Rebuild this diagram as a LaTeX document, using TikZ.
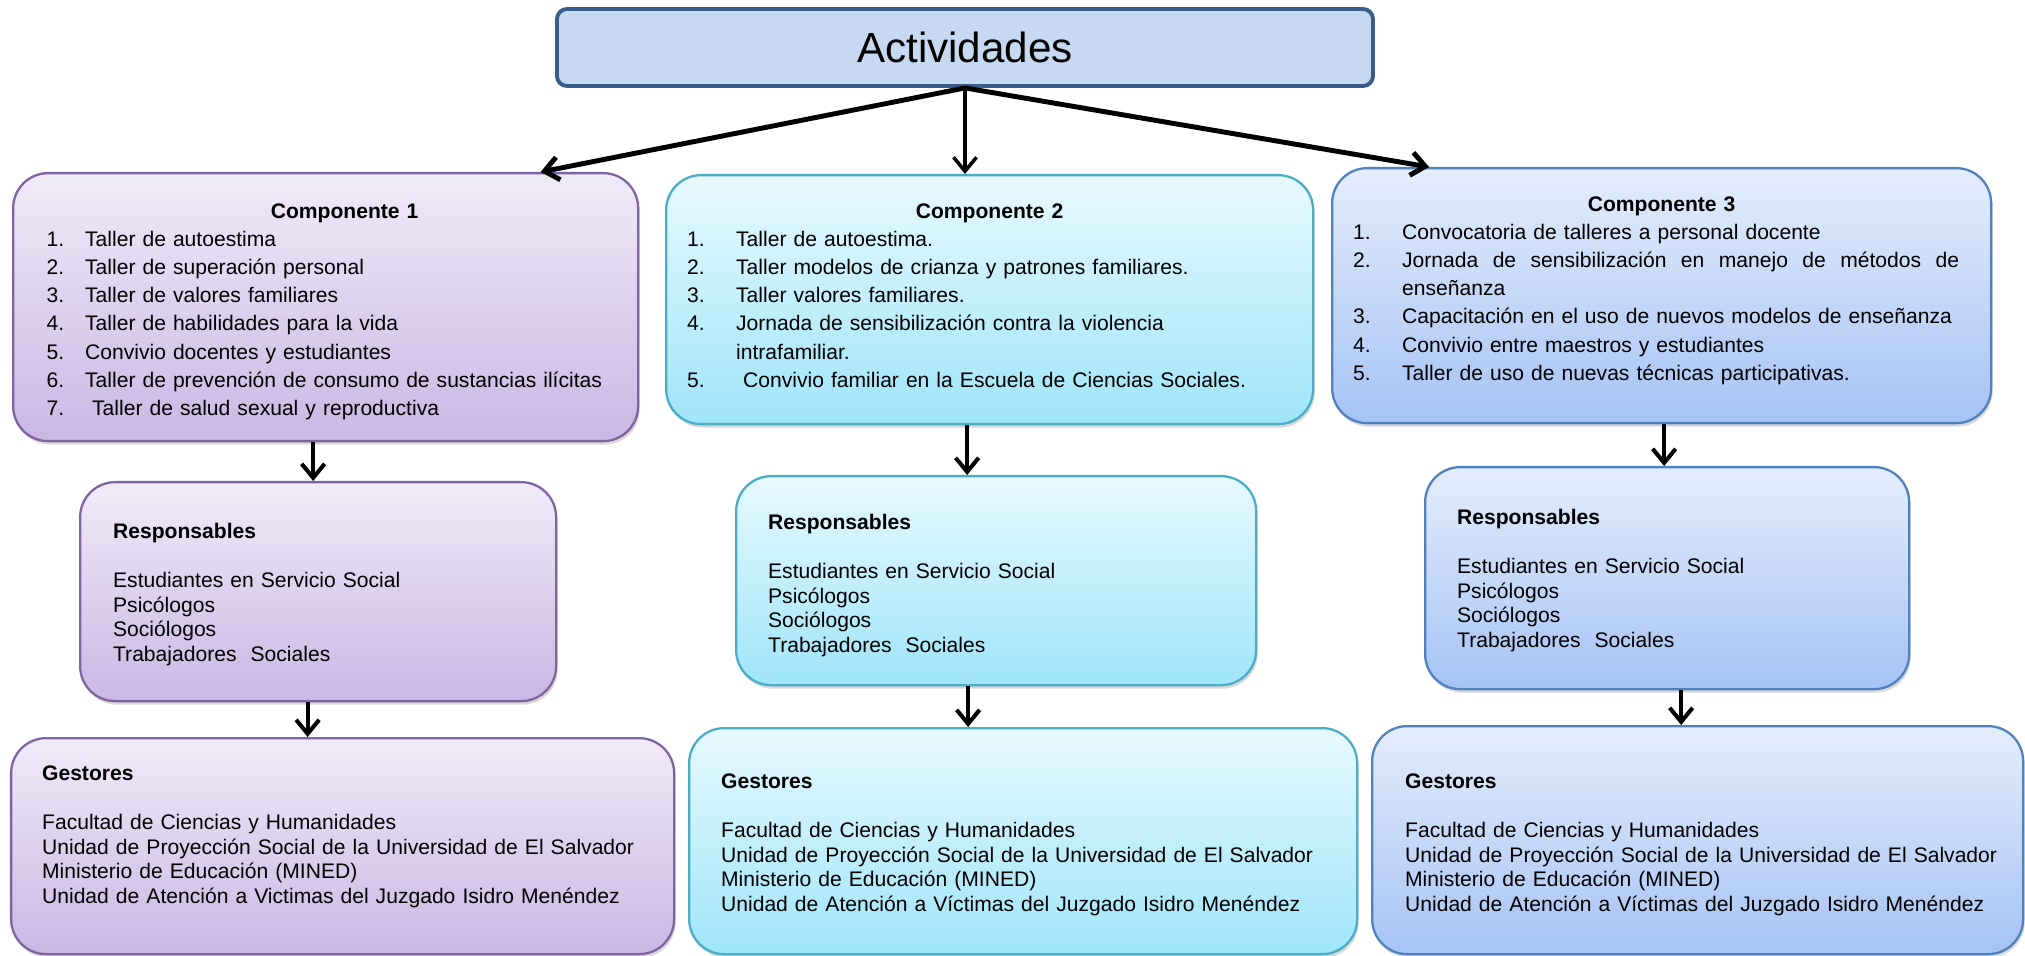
\documentclass[tikz,border=0pt]{standalone}
\usepackage{fontspec}
\setmainfont{Liberation Sans}
\usetikzlibrary{arrows.meta,shadows}
\definecolor{TitleBlue}{HTML}{C6D9F1}
\definecolor{TitleLine}{HTML}{3B5C8A}
\definecolor{LilacLine}{HTML}{8064A2}
\definecolor{LilacTop}{HTML}{F0EBF8}
\definecolor{LilacBot}{HTML}{CAB7E4}
\definecolor{AquaLine}{HTML}{4BACC6}
\definecolor{AquaTop}{HTML}{E7F9FE}
\definecolor{AquaBot}{HTML}{9FE5F9}
\definecolor{SkyLine}{HTML}{4F81BD}
\definecolor{SkyTop}{HTML}{E4EDFB}
\definecolor{SkyBot}{HTML}{A6C3F5}
\newlength{\numw}
\newcommand{\itm}[2]{\makebox[\numw][l]{#1}\mbox{#2}}
\newcommand{\topgap}[1]{\rule{0pt}{#1}}
\newcommand{\botgap}[1]{\rule[-#1]{0pt}{#1}}

\begin{document}
\begin{tikzpicture}[>={Straight Barb[length=0.28cm,width=0.46cm]}, font=\fontsize{12}{14}\selectfont]
\tikzset{box/.style={rounded corners=0.7cm, line width=1.3pt, anchor=north west, inner ysep=0pt, align=left, drop shadow={shadow xshift=0.03cm, shadow yshift=-0.07cm, opacity=0.3}}, lilac/.style={box, draw=LilacLine, top color=LilacTop, bottom color=LilacBot}, aqua/.style={box, draw=AquaLine, top color=AquaTop, bottom color=AquaBot}, sky/.style={box, draw=SkyLine, top color=SkyTop, bottom color=SkyBot}, list/.style={font=\fontsize{12}{16}\selectfont}, arr/.style={->, line width=2.3pt, black}}
\useasboundingbox (0,0) rectangle (40.5,-19.12);
\node[draw=TitleLine, fill=TitleBlue, line width=2.2pt, rounded corners=0.2cm, minimum width=16.32cm, minimum height=1.54cm, font=\fontsize{24}{28}\selectfont] (title) at (19.30,-0.95) {Actividades};
% componentes
\node[lilac, list, text width=11.16cm, inner xsep=0.67cm, minimum width=12.5cm, minimum height=5.36cm] (comp1) at (0.24,-3.44) {\setlength{\numw}{0.77cm}\makebox[\linewidth]{\topgap{0.9cm}\hspace{0.76cm}\textbf{Componente 1}}\\
\itm{1.}{Taller de autoestima}\\
\itm{2.}{Taller de superación personal}\\
\itm{3.}{Taller de valores familiares}\\
\itm{4.}{Taller de habilidades para la vida}\\
\itm{5.}{Convivio docentes y estudiantes}\\
\itm{6.}{Taller de prevención de consumo de sustancias ilícitas}\\
\itm{7.}{\ Taller de salud sexual y reproductiva}\botgap{0.509cm}};
\node[aqua, list, text width=12.10cm, inner xsep=0.42cm, minimum width=12.94cm, minimum height=4.98cm] (comp2) at (13.30,-3.48) {\setlength{\numw}{0.98cm}\makebox[\linewidth]{\topgap{0.86cm}\textbf{Componente 2}}\\
\itm{1.}{Taller de autoestima.}\\
\itm{2.}{Taller modelos de crianza y patrones familiares.}\\
\itm{3.}{Taller valores familiares.}\\
\itm{4.}{Jornada de sensibilización contra la violencia}\\
\itm{}{intrafamiliar.}\\
\itm{5.}{\ Convivio familiar en la Escuela de Ciencias Sociales.}\botgap{0.734cm}};
\node[sky, list, text width=12.34cm, inner xsep=0.42cm, minimum width=13.18cm, minimum height=5.10cm] (comp3) at (26.62,-3.34) {\setlength{\numw}{0.98cm}\makebox[\linewidth]{\topgap{0.86cm}\textbf{Componente 3}}\\
\itm{1.}{Convocatoria de talleres a personal docente}\\
\itm{2.}{\makebox[11.14cm][l]{Jornada\hfill de\hfill sensibilización\hfill en\hfill manejo\hfill de\hfill métodos\hfill de}}\\
\itm{}{enseñanza}\\
\itm{3.}{Capacitación en el uso de nuevos modelos de enseñanza}\\
\itm{4.}{Convivio entre maestros y estudiantes}\\
\itm{5.}{Taller de uso de nuevas técnicas participativas.}\botgap{0.854cm}};
% responsables
\node[lilac, text width=8.20cm, inner xsep=0.66cm, minimum width=9.52cm, minimum height=4.38cm] (resp1) at (1.58,-9.62) {\topgap{1.12cm}\textbf{Responsables}\\[14pt]
Estudiantes en Servicio Social\\ Psicólogos\\ Sociólogos\\ Trabajadores\ \ Sociales\botgap{0.791cm}};
\node[aqua, text width=9.12cm, inner xsep=0.64cm, minimum width=10.40cm, minimum height=4.18cm] (resp2) at (14.70,-9.50) {\topgap{1.06cm}\textbf{Responsables}\\[14pt]
Estudiantes en Servicio Social\\ Psicólogos\\ Sociólogos\\ Trabajadores\ \ Sociales\botgap{0.651cm}};
\node[sky, text width=8.40cm, inner xsep=0.64cm, minimum width=9.68cm, minimum height=4.44cm] (resp3) at (28.48,-9.32) {\topgap{1.14cm}\textbf{Responsables}\\[14pt]
Estudiantes en Servicio Social\\ Psicólogos\\ Sociólogos\\ Trabajadores\ \ Sociales\botgap{0.831cm}};
% gestores
\node[lilac, text width=12.02cm, inner xsep=0.62cm, minimum width=13.26cm, minimum height=4.32cm] (gest1) at (0.20,-14.74) {\topgap{0.84cm}\textbf{Gestores}\\[14pt]
Facultad de Ciencias y Humanidades\\
\mbox{Unidad de Proyección Social de la Universidad de El Salvador}\\
Ministerio de Educación (MINED)\\
\mbox{Unidad de Atención a Victimas del Juzgado Isidro Menéndez}\botgap{1.011cm}};
\node[aqua, text width=12.08cm, inner xsep=0.64cm, minimum width=13.36cm, minimum height=4.52cm] (gest2) at (13.76,-14.54) {\topgap{1.20cm}\textbf{Gestores}\\[14pt]
Facultad de Ciencias y Humanidades\\
\mbox{Unidad de Proyección Social de la Universidad de El Salvador}\\
Ministerio de Educación (MINED)\\
\mbox{Unidad de Atención a Víctimas del Juzgado Isidro Menéndez}\botgap{0.851cm}};
\node[sky, text width=11.70cm, inner xsep=0.66cm, minimum width=13.02cm, minimum height=4.56cm] (gest3) at (27.42,-14.50) {\topgap{1.24cm}\textbf{Gestores}\\[14pt]
Facultad de Ciencias y Humanidades\\
\mbox{Unidad de Proyección Social de la Universidad de El Salvador}\\
Ministerio de Educación (MINED)\\
\mbox{Unidad de Atención a Víctimas del Juzgado Isidro Menéndez}\botgap{0.851cm}};
% flechas
\draw[arr, line width=2.8pt] (title.south) -- ([xshift=4.3cm]comp1.north);
\draw[arr, line width=2pt] (title.south) -- (title.south |- comp2.north);
\draw[arr, line width=2.8pt] (title.south) -- ([xshift=-4.65cm]comp3.north);
\foreach \a/\b/\s in {comp1/resp1/-0.25,comp2/resp2/-0.45,comp3/resp3/0.05,resp1/gest1/-0.21,resp2/gest2/-0.56,resp3/gest3/0.28} \draw[arr] ([xshift=\s cm]\a.south) -- ([xshift=\s cm]\a.south |- \b.north);
\end{tikzpicture}
\end{document}
